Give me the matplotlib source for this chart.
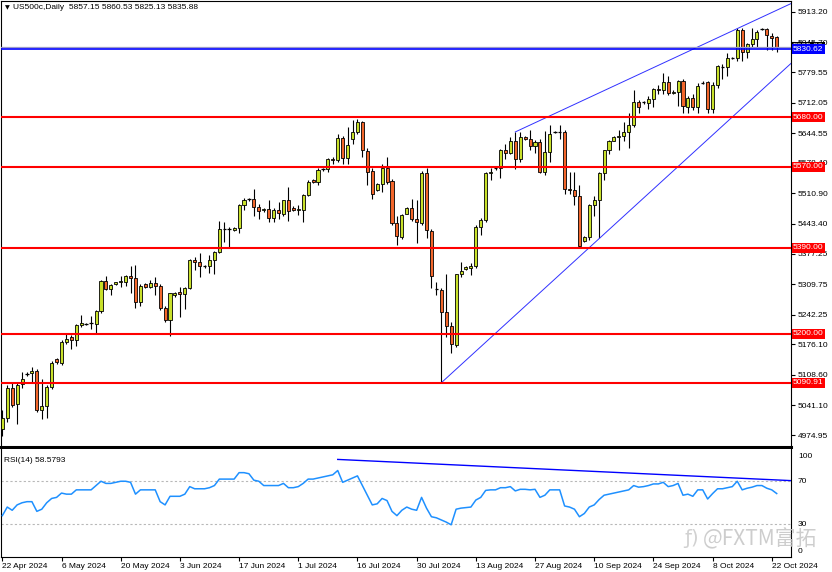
import matplotlib
matplotlib.use("Agg")
import matplotlib.pyplot as plt
import numpy as np

# US500c daily bars, 22 Apr 2024 .. 23 Oct 2024 (short sunday sessions included)
opens = [4988, 5012, 5080, 5044, 5088,
         5108, 5112, 5116, 5030, 5039, 5081,
         5144, 5135, 5182, 5193, 5186, 5220,
         5222, 5221, 5222, 5250, 5316, 5298,
         5309, 5314, 5315, 5327, 5324, 5269,
         5309, 5303, 5313, 5306, 5256, 5231,
         5286, 5292, 5288, 5301, 5363, 5358,
         5348, 5350, 5363, 5381, 5431, 5432,
         5430, 5434, 5484, 5497, 5498, 5481,
         5473, 5476, 5457, 5473, 5466, 5495,
         5479, 5473, 5475, 5508, 5540, 5536,
         5563, 5564, 5588, 5584, 5634, 5590,
         5632, 5647, 5669, 5605, 5560,
         5519, 5532, 5566, 5538, 5445, 5414,
         5466, 5478, 5455, 5445, 5556, 5427,
         5300, 5296, 5247, 5216, 5174, 5331,
         5343, 5346, 5350, 5436, 5451, 5555,
         5565, 5566, 5608, 5600, 5628, 5586,
         5635, 5631, 5616, 5625, 5558, 5602,
         5647, 5647, 5646, 5521, 5518, 5505,
         5405, 5414, 5484, 5495, 5555, 5606,
         5628, 5635, 5639, 5647, 5663, 5713,
         5712, 5712, 5720, 5743, 5739, 5757,
         5733, 5736, 5759, 5703, 5723, 5702,
         5757, 5757, 5698, 5752, 5794, 5792,
         5811, 5811, 5872, 5824, 5841, 5852,
         5874, 5875, 5859, 5857.15]
highs = [5030, 5085, 5092, 5090, 5114,
         5114, 5126, 5121, 5099, 5085, 5140,
         5146, 5185, 5200, 5196, 5222, 5241,
         5224, 5240, 5252, 5318, 5327, 5310,
         5315, 5327, 5330, 5350, 5352, 5310,
         5311, 5318, 5326, 5310, 5262, 5290,
         5293, 5303, 5303, 5365, 5370, 5378,
         5352, 5374, 5382, 5450, 5447, 5436,
         5437, 5487, 5500, 5501, 5521, 5488,
         5478, 5495, 5478, 5492, 5496, 5524,
         5482, 5485, 5510, 5540, 5542, 5568,
         5566, 5590, 5592, 5643, 5639, 5658,
         5673, 5676, 5672, 5612, 5566,
         5533, 5577, 5591, 5542, 5460, 5466,
         5480, 5499, 5495, 5560, 5566, 5432,
         5315, 5300, 5333, 5225, 5333, 5359,
         5350, 5357, 5440, 5456, 5558, 5566,
         5568, 5610, 5621, 5636, 5647, 5647,
         5637, 5651, 5630, 5632, 5648, 5662,
         5650, 5662, 5652, 5558, 5558, 5530,
         5416, 5488, 5505, 5558, 5608, 5630,
         5637, 5651, 5670, 5690, 5739, 5718,
         5716, 5726, 5745, 5750, 5778, 5772,
         5740, 5762, 5765, 5726, 5730, 5756,
         5759, 5760, 5758, 5796, 5798, 5822,
         5814, 5877, 5877, 5845, 5878, 5874,
         5877, 5878, 5866, 5860.53]
lows = [4972, 5005, 5038, 5000, 5080,
        5105, 5090, 5025, 5010, 5012, 5078,
        5133, 5130, 5176, 5165, 5172, 5214,
        5219, 5211, 5198, 5245, 5296, 5285,
        5307, 5303, 5305, 5290, 5257, 5262,
        5300, 5300, 5285, 5252, 5225, 5195,
        5282, 5236, 5255, 5298, 5340, 5325,
        5345, 5334, 5332, 5378, 5403, 5392,
        5428, 5422, 5475, 5494, 5461, 5453,
        5470, 5447, 5447, 5455, 5460, 5450,
        5471, 5462, 5447, 5505, 5534, 5530,
        5560, 5558, 5575, 5580, 5575, 5577,
        5621, 5643, 5591, 5529, 5499,
        5517, 5514, 5532, 5440, 5396, 5410,
        5464, 5450, 5400, 5440, 5411, 5300,
        5285, 5091, 5193, 5156, 5170, 5326,
        5340, 5329, 5345, 5418, 5448, 5540,
        5562, 5544, 5588, 5597, 5564, 5580,
        5629, 5606, 5600, 5555, 5552, 5580,
        5644, 5632, 5510, 5510, 5484, 5390,
        5403, 5408, 5460, 5411, 5540, 5598,
        5626, 5608, 5628, 5612, 5658, 5688,
        5708, 5698, 5702, 5730, 5730, 5728,
        5731, 5705, 5690, 5690, 5695, 5690,
        5754, 5690, 5690, 5745, 5765, 5772,
        5808, 5805, 5805, 5810, 5835, 5835,
        5872, 5829, 5829, 5825.13]
closes = [5012, 5080, 5042, 5086, 5099,
          5110, 5117, 5030, 5039, 5081, 5134,
          5136, 5182, 5189, 5186, 5220, 5223,
          5221, 5223, 5250, 5316, 5298, 5307,
          5314, 5317, 5328, 5324, 5270, 5305,
          5303, 5313, 5306, 5256, 5231, 5289,
          5291, 5288, 5301, 5363, 5359, 5349,
          5350, 5363, 5381, 5431, 5432, 5431,
          5434, 5484, 5497, 5498, 5481, 5471,
          5476, 5457, 5473, 5467, 5495, 5472,
          5473, 5476, 5508, 5537, 5536, 5563,
          5564, 5588, 5584, 5634, 5590, 5619,
          5647, 5669, 5608, 5558, 5510,
          5531, 5566, 5536, 5445, 5416, 5462,
          5478, 5455, 5447, 5556, 5429, 5327,
          5298, 5247, 5216, 5177, 5333, 5339,
          5348, 5350, 5436, 5452, 5555, 5558,
          5566, 5608, 5600, 5628, 5586, 5635,
          5631, 5616, 5625, 5558, 5602, 5643,
          5647, 5646, 5521, 5518, 5505, 5395,
          5414, 5484, 5495, 5555, 5606, 5628,
          5635, 5639, 5647, 5663, 5713, 5702,
          5713, 5720, 5742, 5739, 5757, 5733,
          5736, 5759, 5704, 5722, 5702, 5749,
          5756, 5698, 5752, 5794, 5792, 5811,
          5811, 5872, 5824, 5841, 5852, 5868,
          5875, 5861, 5856, 5835.88]
# RSI(14) as shown in the sub window
rsi = [38, 46, 43, 48, 50,
       51, 51, 42, 44, 50, 54,
       55, 59, 58, 58, 62, 62,
       62, 62, 66, 70, 68, 68,
       69, 70, 70, 69, 58, 62,
       62, 62, 62, 51, 48, 56,
       56, 56, 58, 65, 63, 63,
       63, 64, 66, 72, 72, 72,
       72, 78, 78, 77, 71, 70,
       66, 66, 66, 66, 68, 64,
       64, 65, 68, 72, 72, 73,
       74, 75, 76, 80, 69, 71,
       73, 75, 66, 57, 48,
       49, 54, 52, 42, 38, 43,
       46, 44, 43, 55, 45, 37,
       36, 34, 32, 29.5, 44, 45,
       45.5, 46, 52.5, 55, 61.5, 62,
       62, 64, 64, 65, 61, 62.5,
       62.5, 62, 62.5, 55, 57, 62,
       62, 62, 47, 46, 44, 37,
       40, 46, 48, 53, 57, 58,
       59, 60, 61, 62, 66, 64.5,
       65, 66, 67.5, 67.5, 69, 65,
       66, 68, 57, 58, 56, 62,
       62, 53.5, 58.5, 63, 63, 64,
       65, 70, 62, 63.5, 64.5, 66,
       66, 63.5, 62, 58.5793]

date_labels = ["22 Apr 2024", "6 May 2024", "20 May 2024", "3 Jun 2024", "17 Jun 2024",
               "1 Jul 2024", "16 Jul 2024", "30 Jul 2024", "13 Aug 2024", "27 Aug 2024",
               "10 Sep 2024", "24 Sep 2024", "8 Oct 2024", "22 Oct 2024"]
date_bars = [0, 12, 24, 36, 48, 60, 72, 84, 96, 108, 120, 132, 144, 156]

price_ticks = [5913.20, 5845.70, 5779.55, 5712.05, 5644.55, 5578.40, 5510.90, 5443.40,
               5377.25, 5309.75, 5242.25, 5176.10, 5108.60, 5041.10, 4974.95]
red_levels = [5680.00, 5570.00, 5390.00, 5200.00, 5090.91]
blue_level = 5830.62
bid = 5835.88

# trend lines as (bar, value) anchor pairs
support = [(89, 5090.91), (157, 5770.0)]
resistance = [(104, 5647.0), (157, 5916.8)]
rsi_trend = [(68, 90.3), (158, 71.0)]

BULL = "#c8e02a"
BEAR = "#f2662b"
FONT = "Liberation Sans"
FS = 6

W, H = 832, 572
fig = plt.figure(figsize=(W / 100, H / 100), dpi=100, facecolor="white")
ax = fig.add_axes([0.6 / W, 1 - 447 / H, 790.4 / W, 446.5 / H])
axr = fig.add_axes([0.6 / W, 1 - 556.5 / H, 790.4 / W, 107.5 / H])

xmin, xmax = -0.35, 159.9
n = len(closes)
x = np.arange(n)
o = np.array(opens, float)
h = np.array(highs, float)
l = np.array(lows, float)
c = np.array(closes, float)

# candles
ax.vlines(x, l, h, color="black", lw=0.8, zorder=2)
body_lo = np.minimum(o, c)
body_h = np.abs(c - o)
flat = body_h < 2.5
up = (c >= o) & ~flat
dn = (c < o) & ~flat
ax.bar(x[up], body_h[up], bottom=body_lo[up], width=0.62, color=BULL,
       edgecolor="black", lw=0.6, zorder=3)
ax.bar(x[dn], body_h[dn], bottom=body_lo[dn], width=0.62, color=BEAR,
       edgecolor="black", lw=0.6, zorder=3)
ax.hlines(c[flat], x[flat] - 0.36, x[flat] + 0.36, color="black", lw=0.9, zorder=3)


def ray(a, p0, p1, **kw):
    (x0, y0), (x1, y1) = p0, p1
    k = (y1 - y0) / (x1 - x0)
    a.plot([x0, xmax], [y0, y0 + k * (xmax - x0)], **kw)


ray(ax, *support, color="#3030ff", lw=0.7, zorder=4)
ray(ax, *resistance, color="#3030ff", lw=0.7, zorder=4)

for lv in red_levels:
    ax.axhline(lv, color="#ff0000", lw=1.5, zorder=4)
ax.axhline(bid, color="#9a9ac8", lw=0.9, zorder=4)
ax.axhline(blue_level, color="#0000ff", lw=1.2, zorder=4)

ax.set_xlim(xmin, xmax)
ax.set_ylim(4948.5, 5938.4)
ax.yaxis.tick_right()
ax.set_yticks(price_ticks)
ax.set_yticklabels([f"{v:.2f}" for v in price_ticks], fontsize=FS, family=FONT)
ax.tick_params(axis="y", direction="out", length=3, width=0.8, pad=2)
ax.set_xticks([])
for s in ax.spines.values():
    s.set_color("black")
    s.set_linewidth(0.8)
ax.spines["bottom"].set_linewidth(2.2)


def price_box(a, val, fc, txt):
    a.annotate(txt, xy=(1.0, val), xycoords=("axes fraction", "data"),
               xytext=(1.5, 0), textcoords="offset points", va="center", ha="left",
               fontsize=FS, family=FONT, color="white", zorder=6,
               bbox=dict(boxstyle="square,pad=0.18", fc=fc, ec="none"), annotation_clip=False)


price_box(ax, bid, "black", f"{bid:.2f}")
for lv in red_levels:
    price_box(ax, lv, "#ff0000", f"{lv:.2f}")
price_box(ax, blue_level, "#0000ff", f"{blue_level:.2f}")

fig.text(5 / W, 1 - 7.5 / H, "\u25bc", fontsize=4.5, va="center", ha="left", family="DejaVu Sans")
fig.text(13 / W, 1 - 7.5 / H, "US500c,Daily  5857.15 5860.53 5825.13 5835.88",
         fontsize=FS, va="center", ha="left", family=FONT)

# RSI window
axr.plot(x, rsi, color="#1e90ff", lw=1.1, zorder=3)
for lv in (70, 30):
    axr.axhline(lv, color="#b8b8b8", lw=0.8, ls=(0, (2, 2)), zorder=1)
ray(axr, *rsi_trend, color="#0000ff", lw=1.0, zorder=4)
axr.set_xlim(xmin, xmax)
axr.set_ylim(0, 100)
axr.set_yticks([])
axr.set_xticks(date_bars)
axr.set_xticklabels(date_labels, fontsize=FS, family=FONT, ha="left")
axr.tick_params(axis="x", direction="out", length=3, width=0.8, pad=2)
for s in axr.spines.values():
    s.set_color("black")
    s.set_linewidth(0.8)
axr.spines["top"].set_visible(False)

for val, va, dy in ((100, "top", -3), (70, "center", 0), (30, "center", 0), (0, "bottom", 1)):
    axr.annotate(str(val), xy=(1.0, val), xycoords=("axes fraction", "data"),
                 xytext=(5, dy), textcoords="offset points", va=va, ha="left",
                 fontsize=FS, family=FONT, annotation_clip=False)
axr.text(0.004, 0.93, f"RSI(14) {rsi[-1]:.4f}", transform=axr.transAxes,
         fontsize=FS, family=FONT, va="top", ha="left")

# watermark
fig.text(684 / W, 1 - 539 / H, "\u0192)", fontsize=14, color="#cccccc", alpha=0.9,
         family="DejaVu Sans", va="center", ha="left")
fig.text(703 / W, 1 - 539 / H, "@FXTM富拓", fontsize=15, color="#c8c8c8", alpha=0.9,
         family=["Noto Sans CJK SC", "DejaVu Sans"], va="center", ha="left")

fig.savefig("out.png", dpi=100, facecolor="white")
